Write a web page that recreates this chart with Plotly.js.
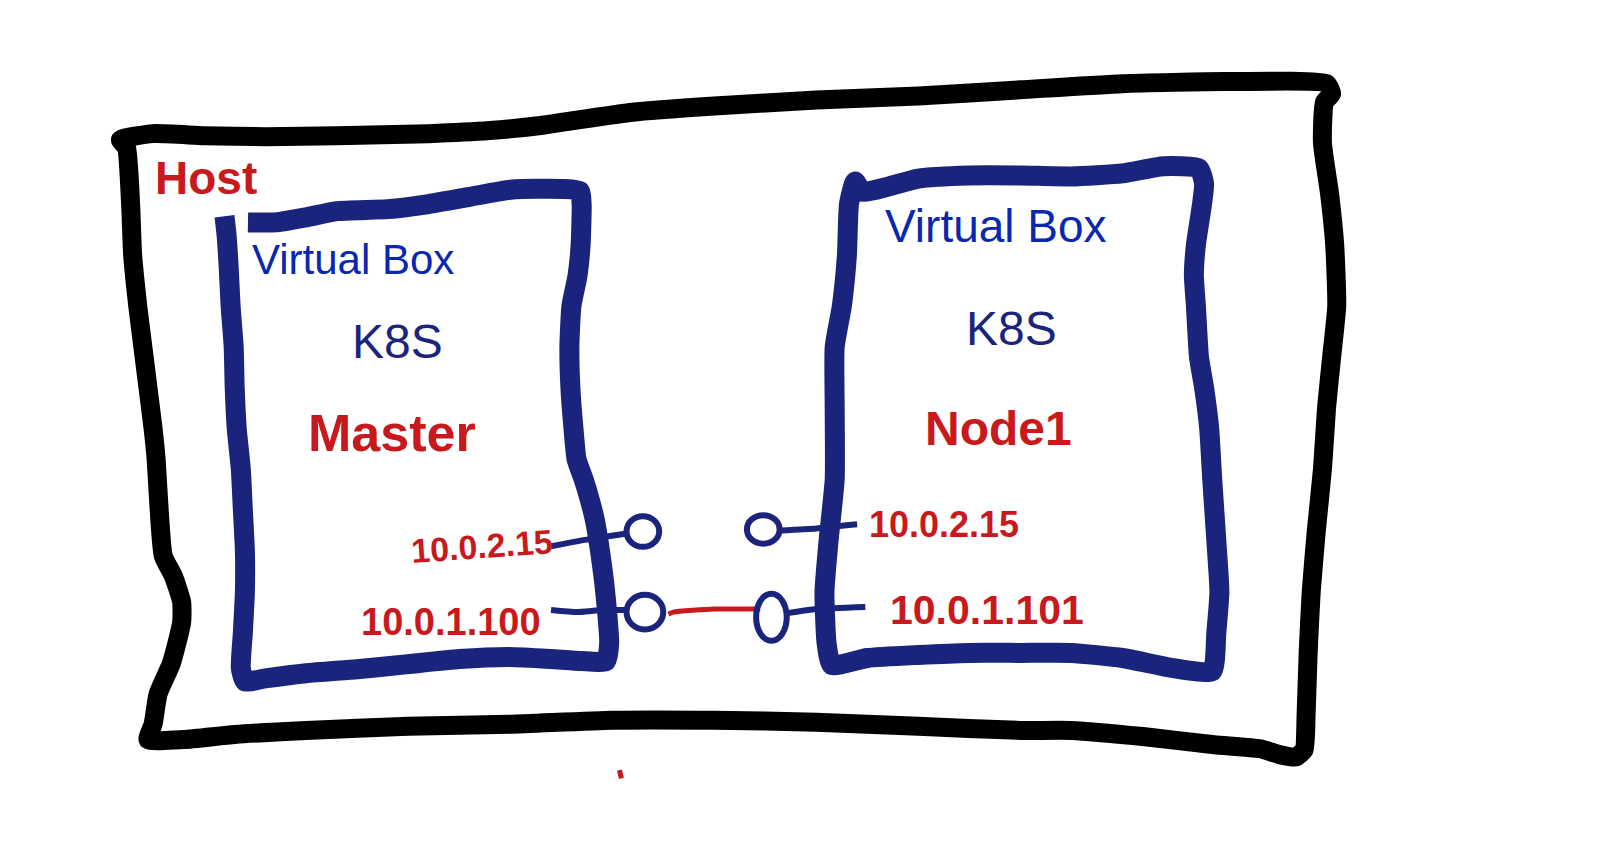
<!DOCTYPE html>
<html>
<head>
<meta charset="utf-8">
<script src="https://cdn.plot.ly/plotly-3.0.1.min.js"></script>
<style>
  html, body { margin: 0; padding: 0; background: #fff; }
  #sketch { width: 1600px; height: 861px; }
</style>
</head>
<body>
<div id="sketch"></div>
<script>
// traced coordinates are in sketch units (the drawing was read at 1568 x 844)
const SKETCH_W = 1568;
const SKETCH_H = 844;

// outline of the host box (black)
const hostX = [118, 150, 200, 260, 330, 420, 480, 530, 570, 620, 700, 800, 900, 1000, 1100, 1200, 1300, 1305,
  1298, 1296, 1303, 1308, 1310, 1305, 1300, 1296, 1290, 1285, 1282, 1280, 1278, 1270,
  1255, 1235, 1190, 1120, 1050, 1000, 900, 800, 700, 600, 500, 400, 300, 230, 180, 145,
  150, 155, 168, 178, 178, 170, 160, 156, 153, 150, 145, 140, 135, 130, 128, 124, 118];
const hostY = [137, 131, 133, 134, 133, 131, 128, 123, 117, 110, 104, 98, 94, 88, 82, 80, 82, 92,
  100, 140, 190, 240, 300, 350, 400, 460, 520, 580, 640, 700, 735, 742,
  740, 734, 730, 722, 716, 716, 712, 708, 706, 706, 710, 712, 716, 720, 725, 725,
  710, 680, 650, 610, 590, 565, 545, 500, 450, 420, 380, 340, 300, 250, 200, 145, 137];

// left virtual box (blue): top stroke, right side, bottom, left side
const masterBoxX = [243, 270, 300, 330, 380, 420, 460, 500, 530, 568,
  570, 569, 566, 560, 558, 559, 562, 565, 572, 578, 583, 588, 592, 595, 597, 594,
  570, 540, 500, 450, 400, 350, 300, 260, 240,
  236, 238, 240, 240, 238, 236, 232, 230, 229, 226, 224, 222, 220];
const masterBoxY = [218, 218, 213, 207, 205, 200, 193, 186, 185, 187,
  200, 240, 270, 300, 340, 380, 420, 450, 470, 490, 510, 540, 570, 600, 630, 648,
  648, 646, 644, 646, 651, 656, 660, 665, 668,
  655, 620, 580, 540, 500, 460, 420, 380, 340, 300, 260, 230, 212];

// right virtual box (blue)
const nodeBoxX = [838, 845, 870, 900, 950, 1000, 1050, 1100, 1140, 1175, 1180,
  1178, 1172, 1170, 1172, 1175, 1180, 1185, 1188, 1192, 1195, 1192, 1188,
  1150, 1100, 1050, 1000, 950, 900, 850, 815,
  810, 808, 812, 818, 818, 818, 825, 830, 832, 838];
const nodeBoxY = [178, 188, 183, 175, 172, 172, 173, 170, 163, 165, 180,
  200, 240, 270, 300, 350, 380, 420, 470, 530, 580, 620, 658,
  655, 645, 640, 640, 640, 642, 645, 652,
  630, 580, 530, 470, 400, 340, 300, 250, 200, 178];

// blue wires from the labels to the ports
const wireX = [537, 575, 614, null, 540, 565, 590, 614, null, 765, 800, 840, null, 772, 800, 848];
const wireY = [536, 529, 523, null, 598, 600, 598, 598, null, 520, 518, 514, null, 601, 597, 595];

// red link between the two 10.0.1.x ports
const linkX = [745, 700, 660, 655, null, 607, 609];
const linkY = [597, 597, 600, 602, null, 755, 763];

// network ports (ellipses): centre and half sizes
const portX = [630, 632, 748, 756];
const portY = [521, 600, 519, 605];
const portRx = [16, 18, 16, 15];
const portRy = [15, 17, 14, 23];

// labels
const labelText = ["Host", "Virtual Box", "K8S", "Master", "10.0.2.15", "10.0.1.100",
  "Virtual Box", "K8S", "Node1", "10.0.2.15", "10.0.1.101"];
const labelX = [150, 245, 343, 300, 400, 352, 865, 945, 905, 850, 870];
const labelY = [174, 254, 335, 424, 535, 610, 222, 322, 420, 514, 598];

const NAVY = "#1b247c";
const BLUE = "#0a27b0";
const RED = "#c8191c";

const labelStyle = [
  { color: RED, size: 46, weight: "bold" },
  { color: BLUE, size: 42, weight: "normal" },
  { color: NAVY, size: 48, weight: "normal" },
  { color: RED, size: 52, weight: "bold" },
  { color: RED, size: 34, weight: "bold", angle: -4 },
  { color: RED, size: 38, weight: "bold" },
  { color: BLUE, size: 46, weight: "normal" },
  { color: NAVY, size: 48, weight: "normal" },
  { color: RED, size: 48, weight: "bold" },
  { color: RED, size: 36, weight: "bold" },
  { color: RED, size: 41, weight: "bold" },
];

function strokeTrace(x, y, color, width) {
  return {
    x, y,
    type: "scatter",
    mode: "lines",
    line: { color, width, shape: "spline", smoothing: 0.5 },
    connectgaps: false,
    hoverinfo: "skip",
  };
}

const traces = [
  strokeTrace(hostX, hostY, "#000000", 19),
  strokeTrace(masterBoxX, masterBoxY, NAVY, 20),
  strokeTrace(nodeBoxX, nodeBoxY, NAVY, 20),
  strokeTrace(wireX, wireY, NAVY, 6),
  strokeTrace(linkX, linkY, RED, 5),
];

const shapes = portX.map((cx, i) => ({
  type: "circle",
  xref: "x", yref: "y",
  x0: cx - portRx[i], x1: cx + portRx[i],
  y0: portY[i] - portRy[i], y1: portY[i] + portRy[i],
  line: { color: NAVY, width: 6 },
}));

const annotations = labelText.map((t, i) => ({
  text: t,
  x: labelX[i], y: labelY[i],
  xref: "x", yref: "y",
  xanchor: "left", yanchor: "middle",
  showarrow: false,
  textangle: labelStyle[i].angle || 0,
  font: {
    family: "Liberation Sans, Arial, sans-serif",
    size: labelStyle[i].size,
    color: labelStyle[i].color,
    weight: labelStyle[i].weight,
  },
}));

Plotly.newPlot(
  "sketch",
  traces,
  {
    width: 1600,
    height: 861,
    margin: { l: 0, r: 0, t: 0, b: 0 },
    paper_bgcolor: "#ffffff",
    plot_bgcolor: "#ffffff",
    showlegend: false,
    xaxis: { range: [0, SKETCH_W], visible: false, fixedrange: true },
    yaxis: { range: [SKETCH_H, 0], visible: false, fixedrange: true },
    shapes,
    annotations,
  },
  { staticPlot: true }
);
</script>
</body>
</html>
